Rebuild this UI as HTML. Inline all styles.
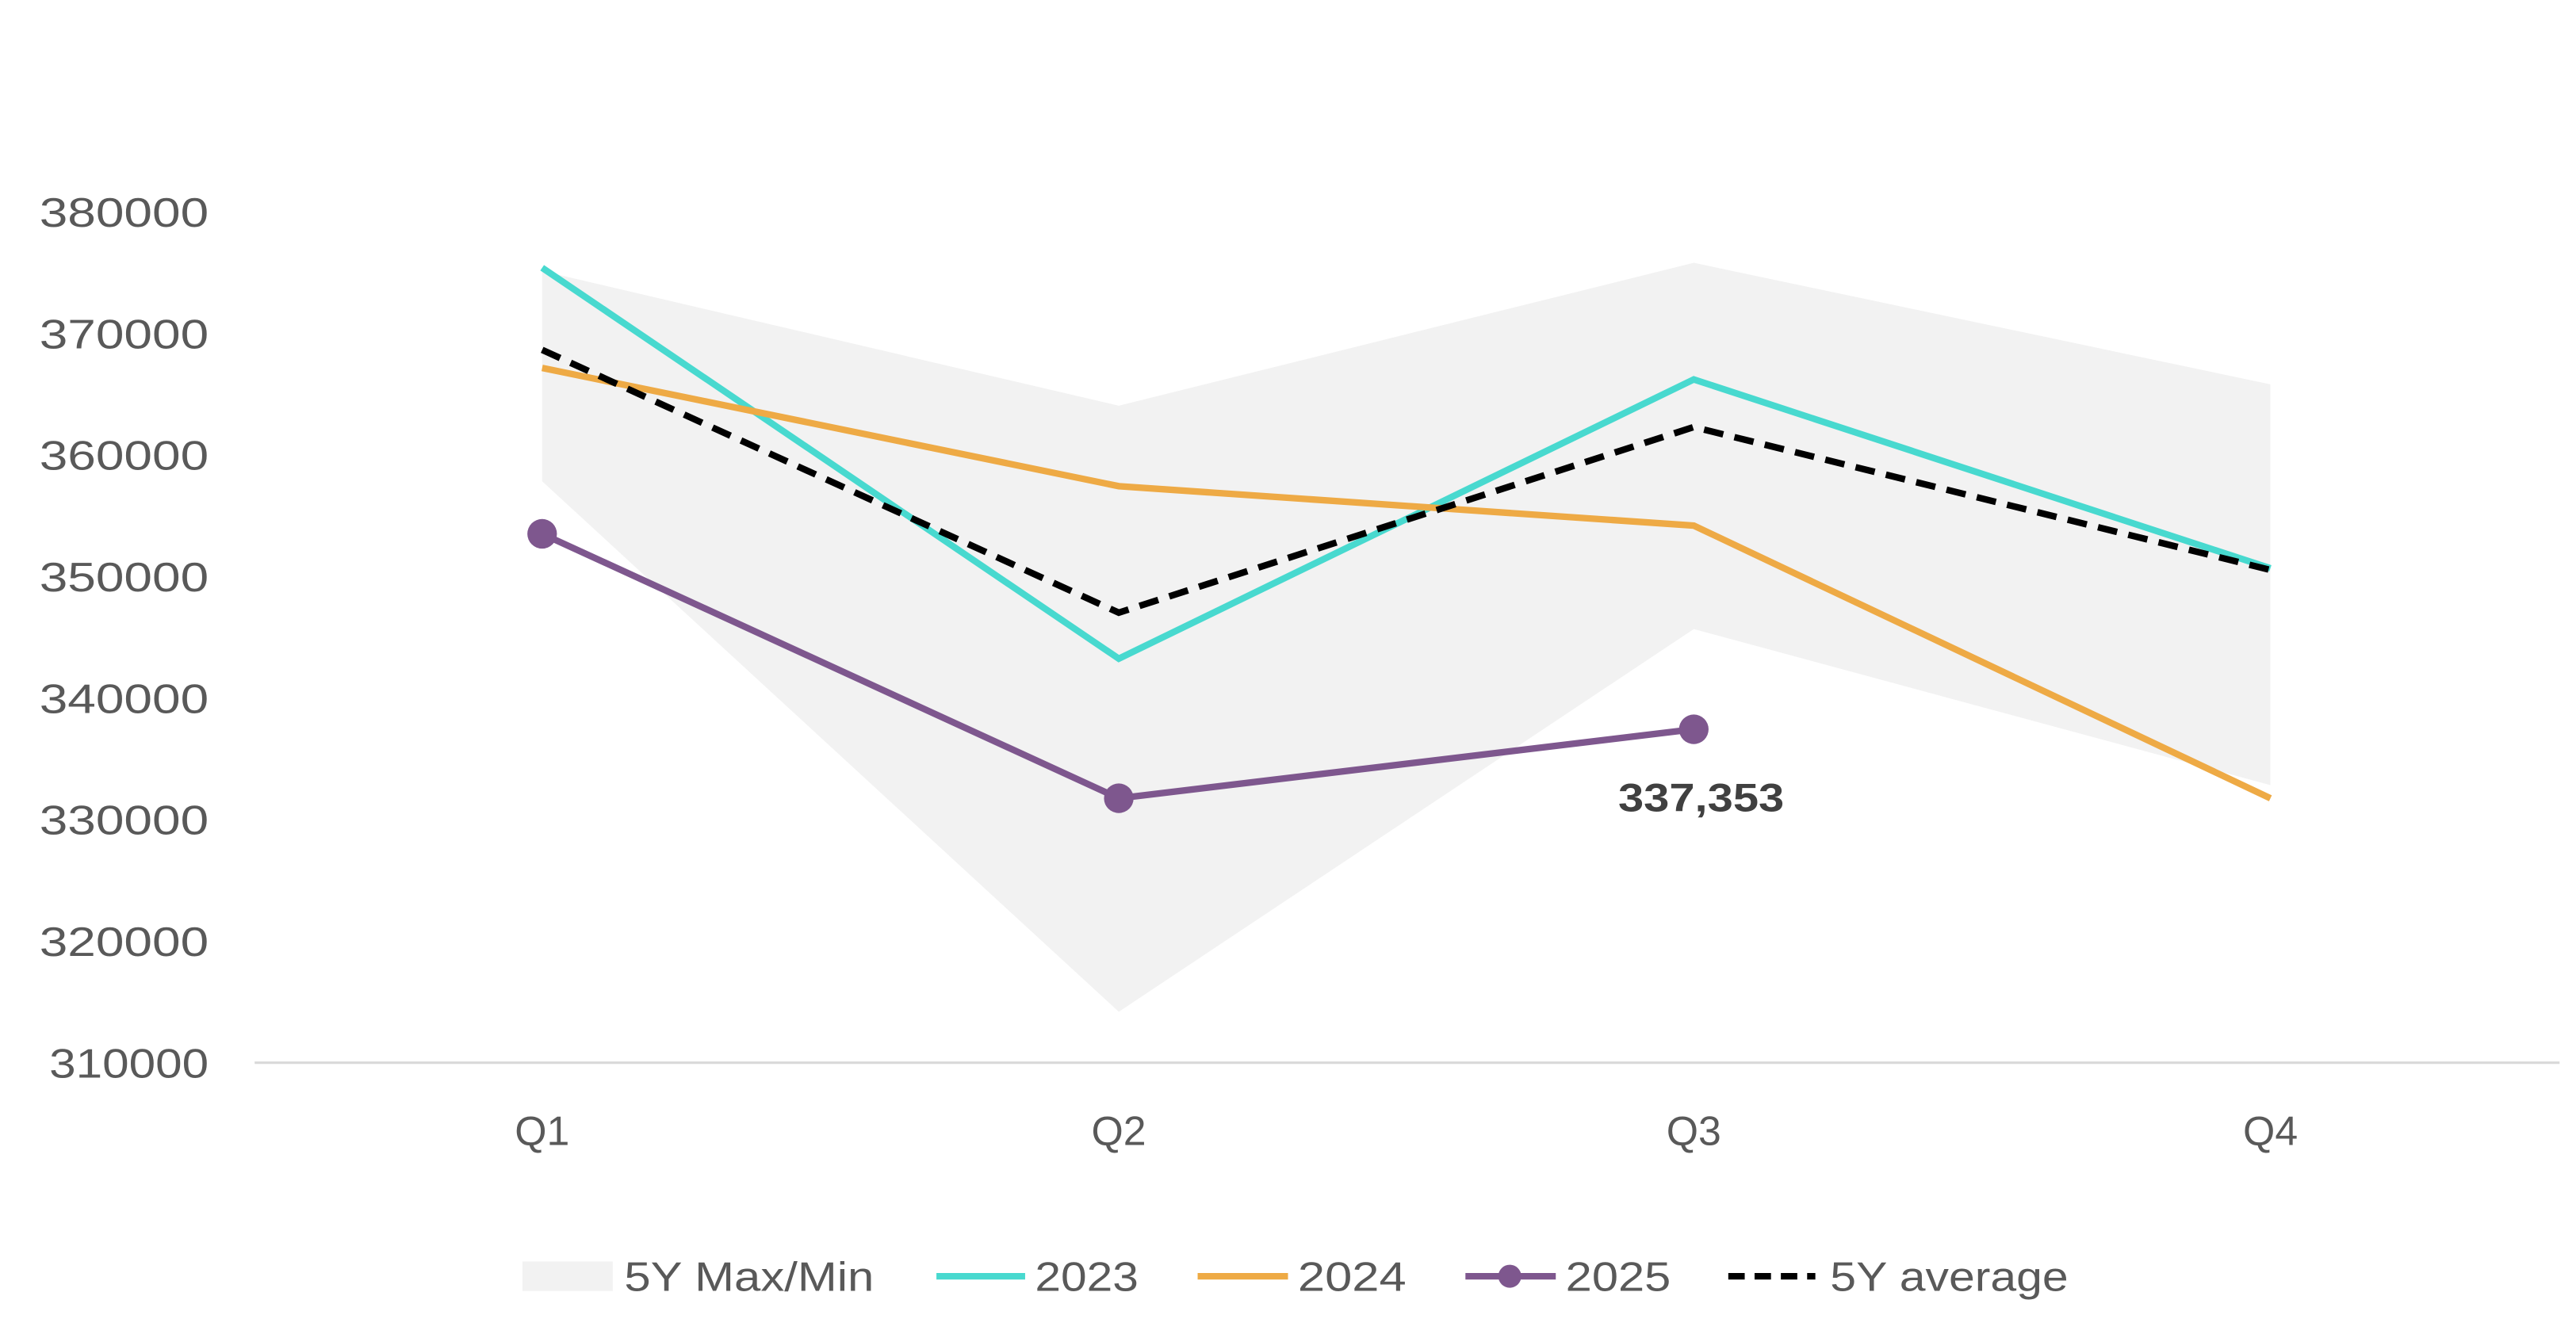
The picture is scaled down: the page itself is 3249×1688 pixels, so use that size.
<!DOCTYPE html>
<html><head><meta charset="utf-8"><style>
html,body{margin:0;padding:0;background:#fff;}
svg{display:block;}
text{font-family:"Liberation Sans",sans-serif;fill:#595959;}
</style></head><body>
<svg width="3249" height="1688" viewBox="0 0 1568 814.6" preserveAspectRatio="none" xmlns="http://www.w3.org/2000/svg">
<rect width="1568" height="815" fill="#fff"/>
<polygon points="330,165 681,247 1031,160 1382,234 1382,478 1031,383 681,616 330,293" fill="#f2f2f2"/>
<line x1="155" y1="647" x2="1558" y2="647" stroke="#d9d9d9" stroke-width="1.5"/>
<g font-size="25">
<text x="24" y="138" textLength="103" lengthAdjust="spacingAndGlyphs">380000</text>
<text x="24" y="212" textLength="103" lengthAdjust="spacingAndGlyphs">370000</text>
<text x="24" y="286" textLength="103" lengthAdjust="spacingAndGlyphs">360000</text>
<text x="24" y="360" textLength="103" lengthAdjust="spacingAndGlyphs">350000</text>
<text x="24" y="434" textLength="103" lengthAdjust="spacingAndGlyphs">340000</text>
<text x="24" y="508" textLength="103" lengthAdjust="spacingAndGlyphs">330000</text>
<text x="24" y="582" textLength="103" lengthAdjust="spacingAndGlyphs">320000</text>
<text x="30" y="656" textLength="97" lengthAdjust="spacingAndGlyphs">310000</text>
</g>
<g font-size="25" text-anchor="middle">
<text x="330" y="697">Q1</text>
<text x="681" y="697">Q2</text>
<text x="1031" y="697">Q3</text>
<text x="1382" y="697">Q4</text>
</g>
<polyline points="330,163 681,401 1031,231 1382,346" fill="none" stroke="#48d9cf" stroke-width="4"/>
<polyline points="330,224 681,296 1031,320 1382,486" fill="none" stroke="#eeaa45" stroke-width="4"/>
<polyline points="330,213 681,373 1031,260 1382,347" fill="none" stroke="#000" stroke-width="4" stroke-dasharray="12,7"/>
<polyline points="330,325 681,486 1031,444" fill="none" stroke="#7e578e" stroke-width="4"/>
<circle cx="330" cy="325" r="9" fill="#7e578e"/>
<circle cx="681" cy="486" r="9" fill="#7e578e"/>
<circle cx="1031" cy="444" r="9" fill="#7e578e"/>
<text x="985" y="494" font-size="24" font-weight="bold" textLength="101" lengthAdjust="spacingAndGlyphs" style="fill:#404040">337,353</text>
<g font-size="25">
<rect x="318" y="768" width="55" height="18" fill="#f2f2f2"/>
<text x="380" y="786" textLength="152" lengthAdjust="spacingAndGlyphs">5Y Max/Min</text>
<line x1="570" y1="777" x2="624" y2="777" stroke="#48d9cf" stroke-width="4"/>
<text x="630" y="786" textLength="63" lengthAdjust="spacingAndGlyphs">2023</text>
<line x1="729" y1="777" x2="784" y2="777" stroke="#eeaa45" stroke-width="4"/>
<text x="790" y="786" textLength="66" lengthAdjust="spacingAndGlyphs">2024</text>
<line x1="892" y1="777" x2="947" y2="777" stroke="#7e578e" stroke-width="4"/>
<circle cx="919" cy="777" r="7" fill="#7e578e"/>
<text x="953" y="786" textLength="64" lengthAdjust="spacingAndGlyphs">2025</text>
<line x1="1052" y1="777" x2="1105" y2="777" stroke="#000" stroke-width="4" stroke-dasharray="10,6"/>
<text x="1114" y="786" textLength="145" lengthAdjust="spacingAndGlyphs">5Y average</text>
</g>
</svg>
</body></html>
